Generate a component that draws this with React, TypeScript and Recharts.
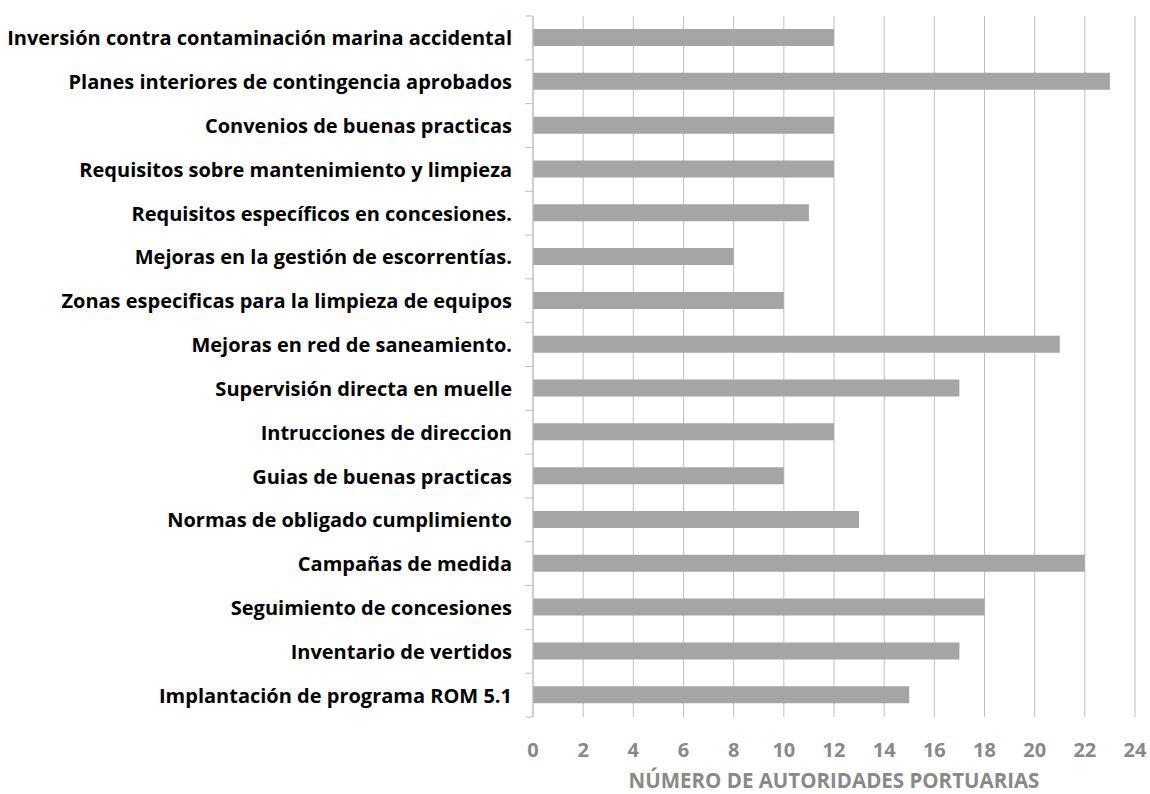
import React from 'react';
import { BarChart, Bar, XAxis, YAxis, CartesianGrid, Label } from 'recharts';

// categories top to bottom, as in the picture
const categories = [
  'Inversión contra contaminación marina accidental',
  'Planes interiores de contingencia aprobados',
  'Convenios de buenas practicas',
  'Requisitos sobre mantenimiento y limpieza',
  'Requisitos específicos en concesiones.',
  'Mejoras en la gestión de escorrentías.',
  'Zonas especificas para la limpieza de equipos',
  'Mejoras en red de saneamiento.',
  'Supervisión directa en muelle',
  'Intrucciones de direccion',
  'Guias de buenas practicas',
  'Normas de obligado cumplimiento',
  'Campañas de medida',
  'Seguimiento de concesiones',
  'Inventario de vertidos',
  'Implantación de programa ROM 5.1',
];

const counts = [12, 23, 12, 12, 11, 8, 10, 21, 17, 12, 10, 13, 22, 18, 17, 15];

const xTicks = [0, 2, 4, 6, 8, 10, 12, 14, 16, 18, 20, 22, 24];

const axisTitle = 'NÚMERO DE AUTORIDADES PORTUARIAS';

const FONT = '"Open Sans", Lato, sans-serif';
const GRID = '#bfbfbf';
const W = 1150;
const H = 794;
const TOP = 16;
const X_AXIS_H = 77;
const BAND = (H - TOP - X_AXIS_H) / categories.length;

// Excel style: ticks sit on the band boundaries, not on the label
const CategoryTick = (props: any) => {
  const { x, y, payload, index } = props;
  const ax = x + 8;
  const top = y - BAND / 2;
  return (
    <g>
      <line x1={ax - 8} x2={ax} y1={top} y2={top} stroke={GRID} />
      {index === categories.length - 1 && (
        <line x1={ax - 8} x2={ax} y1={y + BAND / 2} y2={y + BAND / 2} stroke={GRID} />
      )}
      <text
        x={x - 13}
        y={y}
        textAnchor="end"
        dominantBaseline="central"
        fill="#000"
        fontSize={20}
        fontWeight={700}
        fontFamily={FONT}
      >
        {payload.value}
      </text>
    </g>
  );
};

export default function App() {
  const data = categories.map((name, i) => ({ name, value: counts[i] }));
  return (
    <div style={{ position: 'absolute', left: 0, top: 0, background: '#fff' }}>
      <BarChart
        width={W}
        height={H}
        data={data}
        layout="vertical"
        margin={{ top: TOP, right: 15, left: 0, bottom: 0 }}
      >
        <CartesianGrid horizontal={false} stroke={GRID} />
        <XAxis
          type="number"
          domain={[0, 24]}
          ticks={xTicks}
          axisLine={false}
          tickLine={false}
          height={X_AXIS_H}
          tickMargin={20}
          tick={{ fill: '#898989', fontSize: 20, fontWeight: 700, fontFamily: FONT }}
        >
          <Label
            value={axisTitle}
            position="insideBottom"
            offset={6}
            fill="#898989"
            fontSize={20.5}
            fontWeight={700}
            fontFamily={FONT}
          />
        </XAxis>
        <YAxis
          type="category"
          dataKey="name"
          width={533}
          interval={0}
          axisLine={{ stroke: GRID }}
          tickLine={false}
          tick={<CategoryTick />}
        />
        <Bar dataKey="value" fill="#a5a5a5" barSize={17} isAnimationActive={false} />
      </BarChart>
    </div>
  );
}
